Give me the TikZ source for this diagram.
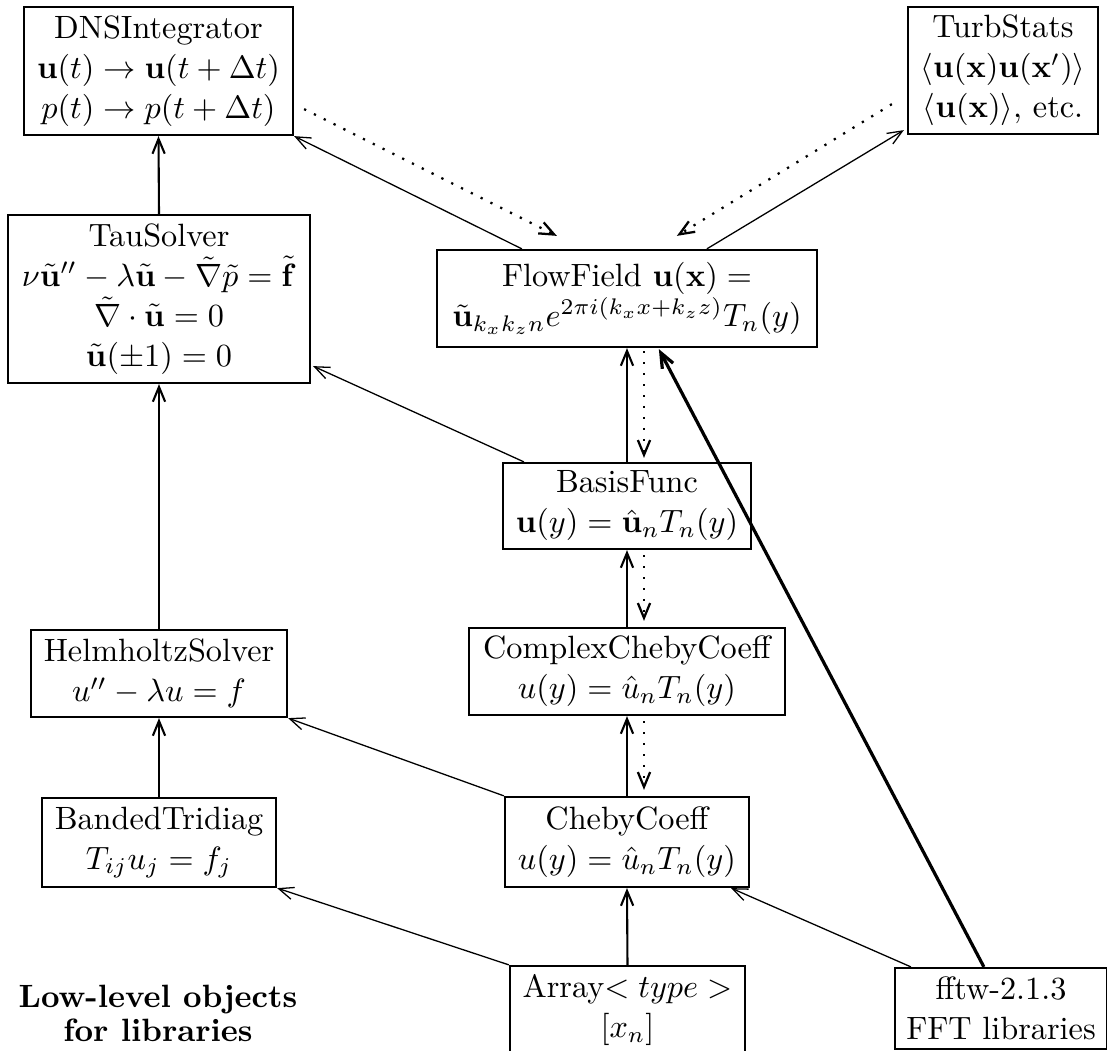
\documentclass[tikz,border=0pt]{standalone}
\usetikzlibrary{arrows.meta,calc}
\tikzset{
  box/.style={draw, line width=0.7pt, align=center, inner sep=1pt, font=\fontsize{10}{12.4}\selectfont},
  thinln/.style={line width=0.4pt, ->},
  midln/.style={line width=0.65pt, ->},
  dotln/.style={line width=0.7pt, dash pattern=on 0.7pt off 2.7pt, ->},
  thickln/.style={line width=1pt, ->},
  lbl/.style={align=center, inner sep=0pt, font=\fontsize{10}{10.5}\selectfont\bfseries}
}
\begin{document}
\begin{tikzpicture}[x=0.31pt, y=-0.31pt, >={Straight Barb[length=4.6pt,width=3.8pt]}]
\path[use as bounding box, clip] (0,0) rectangle (1107,1051);

\node[box, minimum width=83.39pt, minimum height=39.68pt] (dns) at (158.5,71) {DNSIntegrator\\ $\mathbf{u}(t)\to\mathbf{u}(t+\Delta t)$\\ $p(t)\to p(t+\Delta t)$};
\node[box, minimum width=58.9pt, minimum height=39.37pt] (turb) at (1003,70.5) {TurbStats\\ $\langle\mathbf{u}(\mathbf{x})\mathbf{u}(\mathbf{x}')\rangle$\\ $\langle\mathbf{u}(\mathbf{x})\rangle$, etc.};
\node[box, minimum width=93.62pt, minimum height=52.08pt] (tau) at (159,299) {TauSolver\\ $\nu\tilde{\mathbf{u}}''-\lambda\tilde{\mathbf{u}}-\tilde\nabla\tilde p=\tilde{\mathbf{f}}$\\ $\tilde\nabla\cdot\tilde{\mathbf{u}}=0$\\ $\tilde{\mathbf{u}}(\pm1)=0$};
\node[box, minimum width=117.8pt, minimum height=30.07pt] (flow) at (627,298.5) {FlowField $\mathbf{u}(\mathbf{x}) =$\\ $\tilde{\mathbf{u}}_{k_xk_zn}e^{2\pi i(k_xx+k_zz)}T_n(y)$};
\node[box, minimum width=76.88pt, minimum height=26.66pt] (basis) at (627,506) {BasisFunc\\ $\mathbf{u}(y)=\hat{\mathbf{u}}_nT_n(y)$};
\node[box, minimum width=97.96pt, minimum height=26.97pt] (cplx) at (627,671.5) {ComplexChebyCoeff\\ $u(y)=\hat u_nT_n(y)$};
\node[box, minimum width=75.64pt, minimum height=27.9pt] (cheby) at (627,842) {ChebyCoeff\\ $u(y)=\hat u_nT_n(y)$};
\node[box, minimum width=79.36pt, minimum height=26.97pt] (helm) at (159,673.5) {HelmholtzSolver\\ $u''-\lambda u=f$};
\node[box, minimum width=72.54pt, minimum height=27.59pt] (band) at (159,842.5) {BandedTridiag\\ $T_{ij}u_j=f_j$};
\node[box, minimum width=72.85pt, minimum height=27.28pt] (arr) at (627.5,1010) {Array$<type>$\\ $[x_n]$};
\node[box, minimum width=65.72pt, minimum height=25.11pt] (fftw) at (1001,1008.5) {fftw-2.1.3\\ FFT libraries};
\node[lbl] (low) at (158,1013) {Low-level objects\\ for libraries};

\draw[midln] (tau.north) -- (dns.south);
\draw[midln] (helm.north) -- (tau.south);
\draw[midln] (band.north) -- (helm.south);
\draw[thinln] ($(flow.north west)+(86,0)$) -- (dns.south east);
\draw[dotln] ($(dns.south east)+(10,-27)$) -- ($(flow.north west)+(121,-13)$);
\draw[thinln] ($(flow.north west)+(271,0)$) -- ($(turb.south west)+(-3,-5)$);
\draw[dotln] ($(turb.south west)+(-15,-31)$) -- ($(flow.north west)+(241,-13)$);
\draw[thinln] ($(basis.north west)+(22,0)$) -- ($(tau.south east)+(2,-18)$);
\draw[midln] (basis.north) -- (flow.south);
\draw[dotln] ($(flow.south)+(17,3)$) -- ($(basis.north)+(17,-4)$);
\draw[midln] (cplx.north) -- (basis.south);
\draw[dotln] ($(basis.south)+(17,5)$) -- ($(cplx.north)+(17,-6)$);
\draw[midln] (cheby.north) -- (cplx.south);
\draw[dotln] ($(cplx.south)+(17,5)$) -- ($(cheby.north)+(17,-6)$);
\draw[thinln] (cheby.north west) -- (helm.south east);
\draw[midln] (arr.north) -- (cheby.south);
\draw[thinln] (arr.north west) -- (band.south east);
\draw[thinln] ($(fftw.north west)+(17,0)$) -- ($(cheby.south east)+(-19,0)$);
\draw[thickln] ($(fftw.north west)+(90,0)$) -- ($(flow.south west)+(223,1)$);
\end{tikzpicture}
\end{document}
